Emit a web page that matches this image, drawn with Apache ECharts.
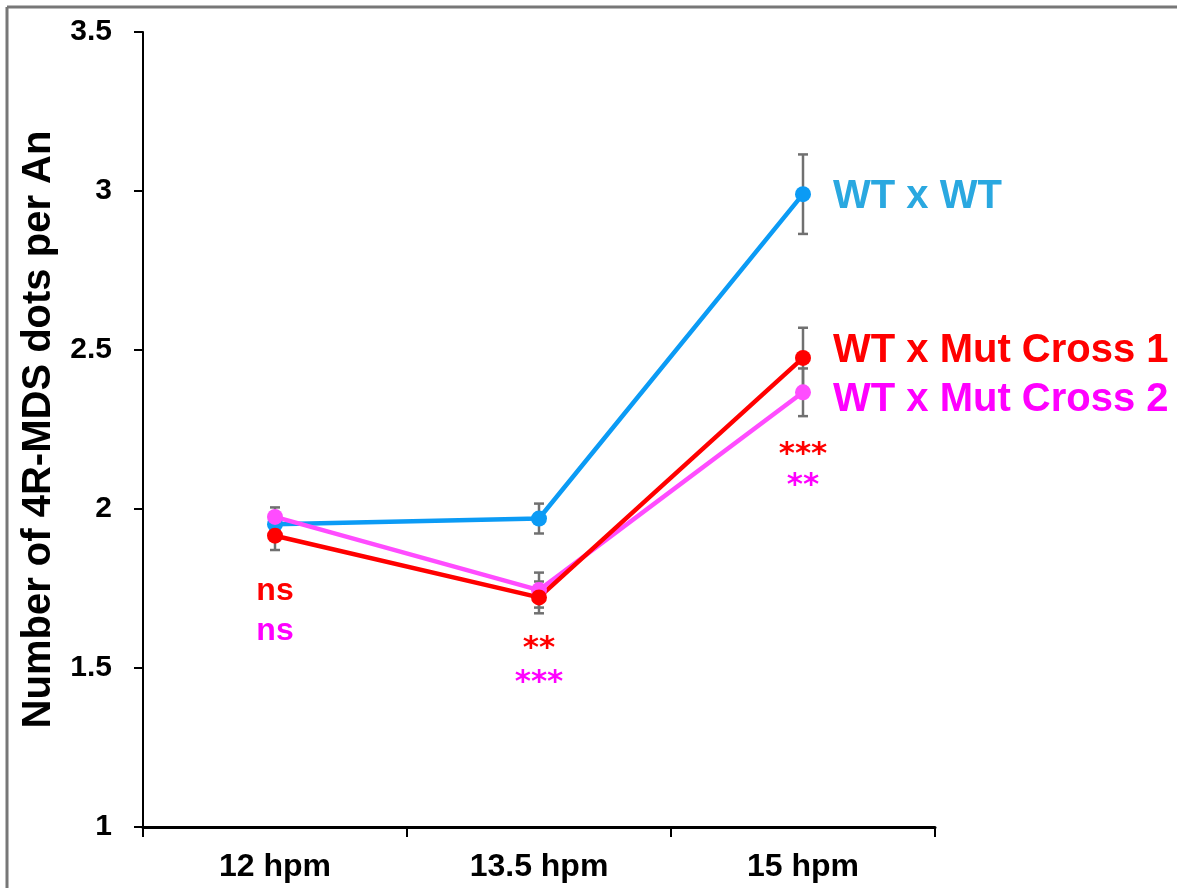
<!DOCTYPE html>
<html>
<head>
<meta charset="utf-8">
<script src="https://cdn.jsdelivr.net/npm/echarts@6/dist/echarts.min.js"></script>
<style>
html,body{margin:0;padding:0;background:#fff;}
#chart{width:1177px;height:888px;}
</style>
</head>
<body>
<div id="chart"></div>
<script>
// ---- data ----
const categories = ['12 hpm', '13.5 hpm', '15 hpm'];
const seriesNames = ['WT x WT', 'WT x Mut Cross 1', 'WT x Mut Cross 2'];
const wtxwt = [1.952, 1.970, 2.990];
const wtxwtErr = [0.03, 0.047, 0.125];
const cross1 = [1.916, 1.722, 2.475];
const cross1Err = [0.045, 0.05, 0.095];
const cross2 = [1.975, 1.745, 2.367];
const cross2Err = [0.03, 0.055, 0.075];
const yTicks = [1, 1.5, 2, 2.5, 3, 3.5];
// significance annotations: [category index, anchor value, text]
const sigCross1 = [[0, 1.743, 'ns'], [1, 1.561, '**'], [2, 2.171, '***']];
const sigCross2 = [[0, 1.617, 'ns'], [1, 1.454, '***'], [2, 2.071, '**']];

// ---- styles ----
const FONT = '"Liberation Sans", Arial, Helvetica, sans-serif';
const STAR_FONT = '"DejaVu Sans", "Liberation Sans", sans-serif';
const C_BLUE = '#0B9BF5', C_BLUE_LABEL = '#2AA8E0';
const C_RED = '#FF0000';
const C_PINK = '#FF4CFF', C_PINK_LABEL = '#FF00FF';
const C_ERR = '#707070';

function errData(vals, errs) {
  return vals.map((v, i) => [i, v - errs[i], v + errs[i]]);
}
function errSeries(vals, errs) {
  return {
    type: 'custom',
    silent: true,
    z: 1,
    data: errData(vals, errs),
    renderItem: function (params, api) {
      const lo = api.coord([api.value(0), api.value(1)]);
      const hi = api.coord([api.value(0), api.value(2)]);
      const w = 5;
      const st = { stroke: C_ERR, lineWidth: 2.5 };
      return {
        type: 'group',
        children: [
          { type: 'line', shape: { x1: hi[0], y1: hi[1], x2: lo[0], y2: lo[1] }, style: st },
          { type: 'line', shape: { x1: hi[0] - w, y1: hi[1], x2: hi[0] + w, y2: hi[1] }, style: st },
          { type: 'line', shape: { x1: lo[0] - w, y1: lo[1], x2: lo[0] + w, y2: lo[1] }, style: st }
        ]
      };
    }
  };
}
function lineSeries(name, vals, color, labelColor, offset) {
  return {
    name: name,
    type: 'line',
    z: 3,
    data: vals,
    symbol: 'circle',
    symbolSize: 16,
    lineStyle: { color: color, width: 4.5 },
    itemStyle: { color: color },
    endLabel: {
      show: true,
      formatter: name,
      color: labelColor,
      fontFamily: FONT,
      fontWeight: 'bold',
      fontSize: 40,
      distance: 30,
      offset: offset
    }
  };
}
function sigSeries(items, color) {
  return {
    type: 'scatter',
    silent: true,
    z: 4,
    symbolSize: 0,
    itemStyle: { opacity: 1 },
    data: items.map(d => ({
      value: [d[0], d[1], d[2]],
      label: d[2] === 'ns'
        ? { fontFamily: FONT, fontSize: 32 }
        : { fontFamily: STAR_FONT, fontSize: 31 }
    })),
    label: {
      show: true,
      position: 'inside',
      formatter: p => p.value[2],
      color: color,
      fontWeight: 'bold'
    }
  };
}

const chart = echarts.init(document.getElementById('chart'), null, { renderer: 'canvas' });
chart.setOption({
  animation: false,
  backgroundColor: '#ffffff',
  grid: { left: 143, top: 32, right: 242, bottom: 61, containLabel: false },
  xAxis: {
    type: 'category',
    data: categories,
    boundaryGap: true,
    axisLine: { lineStyle: { color: '#000', width: 3 } },
    axisTick: { show: true, alignWithLabel: false, length: 10, lineStyle: { color: '#000', width: 2 } },
    axisLabel: {
      margin: 24,
      color: '#000',
      fontFamily: '"Liberation Sans Narrow", "Liberation Sans", Arial, sans-serif',
      fontWeight: 'bold',
      fontSize: 32
    },
    splitLine: { show: false }
  },
  yAxis: {
    type: 'value',
    min: yTicks[0],
    max: yTicks[yTicks.length - 1],
    interval: 0.5,
    name: 'Number of 4R-MDS dots per An',
    nameLocation: 'middle',
    nameGap: 80,
    nameRotate: 90,
    nameTextStyle: { color: '#000', fontFamily: FONT, fontWeight: 'bold', fontSize: 40 },
    axisLine: { show: true, lineStyle: { color: '#000', width: 2 } },
    axisTick: { show: true, length: 9, lineStyle: { color: '#000', width: 2 } },
    axisLabel: {
      margin: 31,
      color: '#000',
      fontFamily: FONT,
      fontWeight: 'bold',
      fontSize: 30,
      formatter: v => String(v)
    },
    splitLine: { show: false }
  },
  series: [
    errSeries(wtxwt, wtxwtErr),
    errSeries(cross2, cross2Err),
    errSeries(cross1, cross1Err),
    lineSeries(seriesNames[0], wtxwt, C_BLUE, C_BLUE_LABEL, [0, 3]),
    lineSeries(seriesNames[2], cross2, C_PINK, C_PINK_LABEL, [0, 8]),
    lineSeries(seriesNames[1], cross1, C_RED, C_RED, [0, -7]),
    sigSeries(sigCross1, C_RED),
    sigSeries(sigCross2, C_PINK_LABEL)
  ],
  graphic: [
    { type: 'line', silent: true, shape: { x1: 7, y1: 7, x2: 7, y2: 888 }, style: { stroke: '#777', lineWidth: 3 } },
    { type: 'line', silent: true, shape: { x1: 7, y1: 7, x2: 1177, y2: 7 }, style: { stroke: '#777', lineWidth: 3 } }
  ]
});
</script>
</body>
</html>
